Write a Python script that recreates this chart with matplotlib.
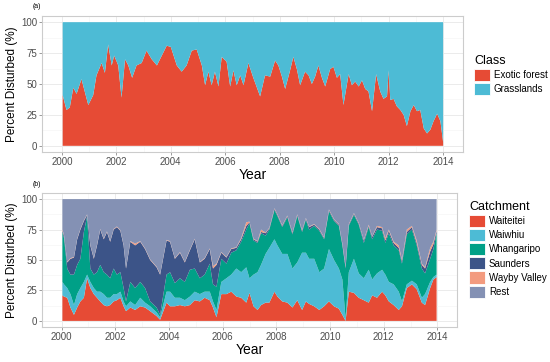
import numpy as np
import matplotlib
matplotlib.use('Agg')
import matplotlib.pyplot as plt
from matplotlib.patches import Patch
from matplotlib.ticker import MultipleLocator

plt.rcParams['font.family'] = ['Liberation Sans', 'DejaVu Sans']

# ---- panel (a): share of disturbed area by class ----
years_a = [2000.03, 2000.17, 2000.29, 2000.42, 2000.54, 2000.72, 2000.85, 2000.97,
           2001.15, 2001.27, 2001.46, 2001.58, 2001.70, 2001.83, 2001.92,
           2002.07, 2002.19, 2002.32, 2002.44, 2002.58, 2002.74, 2002.93,
           2003.11, 2003.30, 2003.49, 2003.85,
           2004.00, 2004.22, 2004.40, 2004.58, 2004.77, 2004.95,
           2005.14, 2005.26, 2005.38, 2005.50, 2005.62, 2005.75, 2005.87,
           2006.05, 2006.18, 2006.30, 2006.42, 2006.55, 2006.67, 2006.85,
           2007.03, 2007.28, 2007.46, 2007.65, 2007.83, 2007.95,
           2008.08, 2008.20, 2008.38, 2008.50, 2008.63, 2008.75, 2008.93,
           2009.06, 2009.18, 2009.30, 2009.42, 2009.55, 2009.67, 2009.85, 2009.97,
           2010.10, 2010.22, 2010.34, 2010.53, 2010.65, 2010.77, 2010.90,
           2011.02, 2011.14, 2011.26, 2011.39, 2011.54, 2011.69, 2011.81, 2011.94,
           2012.00, 2012.06, 2012.18, 2012.30, 2012.43, 2012.55, 2012.67, 2012.80, 2012.92,
           2013.04, 2013.16, 2013.29, 2013.41, 2013.53, 2013.65, 2013.78, 2013.90,
           2014.00]
exotic_forest = [41, 29, 31, 47, 42, 54, 43, 33,
                 41, 57, 67, 59, 82, 65, 73,
                 65, 39, 70, 65, 55, 65, 67,
                 77, 70, 65, 81,
                 80, 65, 60, 65, 77, 78,
                 65, 49, 60, 49, 60, 48, 72,
                 68, 48, 61, 49, 57, 49, 67,
                 55, 40, 57, 56, 69, 65,
                 56, 46, 61, 72, 62, 49, 60,
                 57, 50, 56, 65, 55, 48, 62, 64,
                 55, 58, 33, 58, 49, 52, 48,
                 53, 46, 44, 28, 58, 44, 38, 40,
                 61, 37, 38, 32, 29, 25, 16, 28, 33,
                 28, 29, 14, 10, 13, 20, 26, 20,
                 3]
class_names = ['Exotic forest', 'Grasslands']
class_colors = ['#E64B35', '#4DBBD5']

# ---- panel (b): share of disturbed area by catchment ----
years_b = [2000.03, 2000.09, 2000.21, 2000.33, 2000.46, 2000.58, 2000.70, 2000.83, 2000.95,
           2001.07, 2001.20, 2001.32, 2001.44, 2001.57, 2001.69, 2001.81, 2001.94,
           2002.06, 2002.19, 2002.31, 2002.40, 2002.56, 2002.74, 2002.93,
           2003.11, 2003.30, 2003.54, 2003.67, 2003.91,
           2004.04, 2004.22, 2004.41, 2004.59, 2004.78, 2004.96,
           2005.15, 2005.33, 2005.52, 2005.64, 2005.77, 2005.95,
           2006.14, 2006.32, 2006.51, 2006.69, 2006.88,
           2007.00, 2007.15, 2007.30, 2007.43, 2007.60, 2007.74, 2007.93,
           2008.04, 2008.22, 2008.41, 2008.60, 2008.78, 2008.96,
           2009.10, 2009.22, 2009.41, 2009.60, 2009.78, 2009.96,
           2010.15, 2010.33, 2010.46, 2010.58, 2010.70, 2010.89,
           2011.07, 2011.26, 2011.44, 2011.57, 2011.75, 2011.94,
           2012.06, 2012.19, 2012.37, 2012.56, 2012.68, 2012.86,
           2013.05, 2013.23, 2013.42, 2013.54, 2013.73, 2013.85, 2013.97]
waiteitei = [21, 20, 19, 11, 5, 11, 16, 19, 35,
             27, 22, 19, 16, 13, 12, 13, 16,
             17, 19, 12, 8, 11, 9, 12,
             11, 8, 4, 1, 15,
             12, 12, 13, 12, 13, 17,
             16, 19, 17, 11, 3, 22,
             22, 24, 20, 19, 15,
             23, 12, 9, 13, 15, 15, 24,
             20, 16, 15, 11, 17, 9,
             16, 14, 12, 9, 12, 16,
             12, 10, 5, 0, 24, 23,
             19, 17, 15, 21, 19, 24,
             21, 16, 13, 9, 12, 27,
             30, 26, 15, 13, 27, 34, 36]
waiwhiu = [11, 10, 8, 11, 8, 11, 11, 13, 3,
           5, 5, 5, 8, 9, 7, 6, 6,
           5, 5, 4, 4, 5, 4, 7,
           4, 4, 3, 2, 9,
           12, 7, 6, 5, 7, 7,
           6, 5, 7, 5, 6, 10,
           13, 14, 23, 21, 29,
           12, 26, 31, 33, 40, 45, 43,
           42, 39, 40, 32, 31, 47,
           40, 37, 39, 31, 31, 43,
           38, 33, 29, 2, 16, 28,
           20, 18, 27, 13, 20, 18,
           17, 16, 17, 15, 4, 3,
           3, 4, 4, 9, 5, 2, 2]
whangaripo = [41, 38, 16, 16, 25, 24, 24, 41, 48,
              11, 11, 16, 22, 18, 19, 16, 21,
              16, 16, 11, 4, 16, 14, 13,
              12, 4, 4, 2, 14,
              16, 12, 16, 15, 22, 19,
              13, 14, 23, 14, 19, 19,
              12, 18, 15, 25, 31,
              45, 28, 24, 26, 15, 15, 24,
              24, 22, 30, 28, 38, 17,
              27, 24, 27, 34, 24, 31,
              32, 35, 28, 41, 38, 36,
              40, 29, 35, 33, 36, 32,
              26, 40, 32, 34, 31, 41,
              42, 32, 24, 17, 19, 23, 34]
saunders = [1, 2, 5, 13, 14, 21, 24, 9, 1,
            19, 13, 22, 29, 27, 35, 30, 32,
            39, 34, 35, 27, 33, 35, 33,
            32, 34, 33, 33, 28,
            25, 20, 21, 16, 16, 24,
            13, 13, 12, 13, 18, 5,
            5, 3, 2, 2, 3,
            1, 1, 1, 1, 2, 1, 1,
            1, 1, 1, 1, 1, 1,
            1, 2, 1, 1, 1, 1,
            1, 1, 1, 1, 1, 1,
            1, 2, 1, 2, 2, 2,
            2, 2, 2, 2, 2, 2,
            2, 2, 3, 4, 6, 4, 2]
wayby_valley = [1, 0.5, 0.5, 0.5, 0.5, 0.5, 0.5, 0.5, 0.5,
                0.5, 0.5, 0.5, 0.5, 0.5, 0.5, 0.5, 0.5,
                0.5, 0.5, 0.5, 0.5, 0.5, 1.5, 0.5,
                0.5, 0.5, 0.5, 0.5, 0.5,
                0.5, 0.5, 0.5, 0.5, 0.5, 0.5,
                0.5, 0.5, 0.5, 2, 1, 0.5,
                0.5, 0.5, 0.5, 1, 3,
                0.5, 0.5, 0.5, 2, 0.5, 0.5, 0.5,
                0.5, 0.5, 0.5, 0.5, 0.5, 0.5,
                0.5, 0.5, 0.5, 0.5, 0.5, 0.5,
                0.5, 0.5, 0.5, 0.5, 0.5, 0.5,
                0.5, 0.5, 1, 0.5, 1, 1,
                2, 1, 1, 2, 1, 2,
                1, 2, 1, 1, 3, 2, 1]
rest = [25, 29.5, 51.5, 48.5, 47.5, 32.5, 24.5, 17.5, 12.5,
        37.5, 48.5, 37.5, 24.5, 32.5, 26.5, 34.5, 24.5,
        22.5, 25.5, 37.5, 56.5, 34.5, 36.5, 34.5,
        40.5, 49.5, 55.5, 61.5, 33.5,
        34.5, 48.5, 43.5, 51.5, 41.5, 32.5,
        51.5, 48.5, 40.5, 55, 53, 43.5,
        47.5, 40.5, 39.5, 32, 19,
        18.5, 32.5, 34.5, 25, 27.5, 23.5, 7.5,
        12.5, 21.5, 13.5, 27.5, 12.5, 25.5,
        15.5, 22.5, 20.5, 24.5, 31.5, 8.5,
        16.5, 20.5, 36.5, 55.5, 20.5, 11.5,
        19.5, 33.5, 21, 30.5, 22, 23,
        32, 25, 35, 38, 50, 25,
        22, 34, 53, 56, 40, 35, 25]
catchment_names = ['Waiteitei', 'Waiwhiu', 'Whangaripo', 'Saunders', 'Wayby Valley', 'Rest']
catchment_colors = ['#E64B35', '#4DBBD5', '#00A087', '#3C5488', '#F39B7F', '#8491B4']

year_ticks = [2000, 2002, 2004, 2006, 2008, 2010, 2012, 2014]
pct_ticks = [0, 25, 50, 75, 100]


def style_panel(ax, w_px, h_px):
    """ggplot theme_bw look"""
    ax.set_facecolor('white')
    ax.set_axisbelow(True)
    ax.set_xlim(1999.27, 2014.73)
    ax.set_ylim(-5, 105)
    ax.set_xticks(year_ticks)
    ax.set_yticks(pct_ticks)
    ax.xaxis.set_minor_locator(MultipleLocator(1))
    ax.yaxis.set_minor_locator(MultipleLocator(12.5))
    ax.grid(which='major', color='#EBEBEB', lw=0.7)
    ax.grid(which='minor', color='#F4F4F4', lw=0.4)
    for sp in ax.spines.values():
        sp.set_color('#CCCCCC')
        sp.set_linewidth(0.8)
    ax.tick_params(which='major', length=2, width=0.6, color='#8C8C8C',
                   labelsize=7, labelcolor='#4D4D4D', pad=1.5)
    ax.tick_params(which='minor', length=0)
    ax.set_ylabel('Percent Disturbed (%)', fontsize=8.5)
    ax.yaxis.set_label_coords(-24.0 / w_px, 0.5)
    ax.set_xlabel('Year', fontsize=10)
    ax.xaxis.set_label_coords(0.5, -16.0 / h_px)


fig = plt.figure(figsize=(5.5, 3.62), dpi=100)

# panel (a)
ax1 = fig.add_axes([42 / 550, 1 - 152 / 362, 421 / 550, 136 / 362])
exo = np.array(exotic_forest, dtype=float)
ax1.stackplot(years_a, exo, 100 - exo, colors=class_colors, lw=0)
style_panel(ax1, 421, 136)
h1 = [Patch(facecolor=c, edgecolor='white', lw=0.6) for c in class_colors]
ax1.legend(h1, class_names, loc='upper left', bbox_to_anchor=(474 / 550, 1 - 55 / 362),
           bbox_transform=fig.transFigure, frameon=False, title='Class',
           fontsize=7, title_fontsize=9, alignment='left',
           handlelength=1.65, handleheight=1.55, handletextpad=0.4,
           labelspacing=0.2, borderpad=0, borderaxespad=0)
fig.text(33 / 550, 1 - 7 / 362, '(a)', fontsize=5, va='center')

# panel (b)
ax2 = fig.add_axes([42 / 550, 1 - 327 / 362, 415 / 550, 134 / 362])
ax2.stackplot(years_b, waiteitei, waiwhiu, whangaripo, saunders, wayby_valley, rest,
              colors=catchment_colors, lw=0)
style_panel(ax2, 415, 134)
h2 = [Patch(facecolor=c, edgecolor='white', lw=0.6) for c in catchment_colors]
ax2.legend(h2, catchment_names, loc='upper left', bbox_to_anchor=(469 / 550, 1 - 201 / 362),
           bbox_transform=fig.transFigure, frameon=False, title='Catchment',
           fontsize=7, title_fontsize=9, alignment='left',
           handlelength=1.65, handleheight=1.55, handletextpad=0.4,
           labelspacing=0.2, borderpad=0, borderaxespad=0)
fig.text(33 / 550, 1 - 184 / 362, '(b)', fontsize=5, va='center')

fig.savefig('out.png', dpi=100)
